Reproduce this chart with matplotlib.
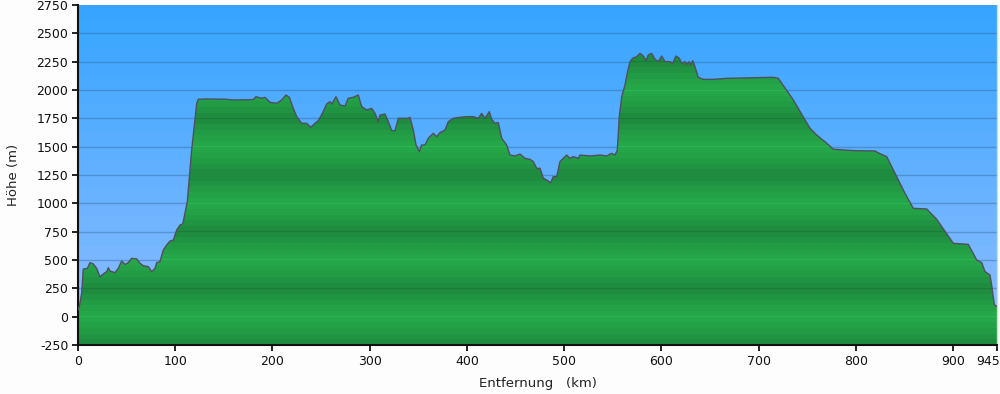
import numpy as np
import matplotlib
matplotlib.use("Agg")
import matplotlib.pyplot as plt
from matplotlib.colors import to_rgb
from matplotlib.patches import Polygon
from matplotlib.transforms import ScaledTranslation

plt.rcParams["axes.unicode_minus"] = False

# ---- data (distance in km, elevation in m) ----
distance_km = [0, 1.3, 3.8, 5.4, 9.6, 12.3, 15.7, 19.2, 22.6, 26.0, 29.5, 31.2, 32.9, 38.0,
               41.4, 44.9, 48.3, 51.7, 55.2, 60.4, 63.8, 67.1, 72.3, 75.8, 79.2, 80.9, 84.3,
               87.7, 91.2, 94.6, 98.0, 101.5, 104.9, 107.7, 110.0, 112.4, 116.9, 122.1, 123.7,
               132.3, 152.9, 159.7, 180.3, 183.0, 188.9, 192.3, 197.4, 204.3, 209.5, 213.9,
               217.3, 221.4, 224.9, 230.0, 235.2, 239.3, 243.7, 247.1, 251.3, 255.7, 259.1,
               260.9, 265.3, 269.4, 274.6, 277.9, 283.1, 288.2, 291.7, 296.9, 302.0, 305.4,
               308.8, 310.5, 315.7, 319.1, 322.6, 326.0, 329.4, 339.6, 341.4, 344.8, 347.6,
               351.0, 353.4, 356.8, 360.2, 365.4, 368.8, 372.2, 377.4, 380.8, 385.9, 392.8,
               399.7, 406.5, 411.6, 415.1, 418.5, 422.9, 425.4, 428.8, 432.2, 435.7, 440.8,
               444.2, 449.4, 454.5, 459.6, 464.8, 468.2, 471.7, 475.1, 478.5, 481.9, 486.1,
               488.7, 492.2, 495.6, 502.5, 505.9, 509.3, 514.5, 516.2, 526.5, 536.8, 543.6,
               548.8, 552.2, 554.6, 556.6, 559.1, 562.5, 564.8, 567.6, 570.4, 574.5, 577.9,
               581.3, 584.1, 586.4, 589.9, 593.3, 596.7, 600.2, 603.6, 608.7, 611.5, 614.9,
               618.3, 620.8, 624.2, 625.9, 628.6, 630.0, 632.1, 634.4, 637.8, 643.0, 653.3,
               667.0, 697.9, 715.0, 720.1, 735.5, 752.7, 759.6, 769.9, 776.7, 797.3, 819.6,
               824.0, 831.6, 841.9, 850.4, 858.9, 872.7, 883.0, 900.1, 915.5, 924.1, 929.3,
               932.7, 937.8, 939.5, 942.0, 943.0, 945.0]
elevation_m = [60, 88, 206, 420, 426, 476, 465, 426, 352, 377, 397, 432, 403, 388,
               426, 491, 461, 476, 515, 509, 471, 450, 441, 397, 426, 476, 485,
               588, 632, 667, 676, 765, 809, 818, 912, 1015, 1471, 1883, 1918,
               1921, 1918, 1912, 1915, 1941, 1927, 1935, 1891, 1883, 1912, 1956,
               1935, 1838, 1765, 1706, 1706, 1671, 1706, 1730, 1794, 1876, 1897,
               1876, 1941, 1868, 1859, 1927, 1935, 1956, 1853, 1824, 1838, 1794,
               1721, 1779, 1788, 1721, 1641, 1641, 1750, 1750, 1759, 1647, 1515,
               1456, 1515, 1515, 1574, 1618, 1588, 1624, 1647, 1721, 1750, 1759,
               1765, 1765, 1750, 1794, 1750, 1809, 1741, 1706, 1712, 1574, 1515,
               1426, 1418, 1435, 1397, 1388, 1368, 1309, 1309, 1221, 1206, 1182,
               1235, 1235, 1368, 1426, 1397, 1412, 1397, 1426, 1418, 1426, 1418,
               1441, 1426, 1471, 1765, 1941, 2044, 2147, 2250, 2280, 2294, 2323,
               2300, 2259, 2309, 2323, 2271, 2250, 2300, 2250, 2250, 2235, 2300,
               2280, 2235, 2250, 2229, 2250, 2221, 2259, 2206, 2112, 2094, 2094,
               2103, 2109, 2112, 2103, 1912, 1662, 1603, 1530, 1477, 1465, 1462,
               1441, 1412, 1235, 1088, 956, 950, 859, 647, 638, 500, 476,
               397, 368, 279, 118, 100, 90]

x_ticks = [0, 100, 200, 300, 400, 500, 600, 700, 800, 900, 945]
y_ticks = list(range(-250, 2751, 250))
x_label = "Entfernung   (km)"
y_label = "Höhe (m)"

YMIN, YMAX = -250, 2750
XMIN, XMAX = 0, 945

fig = plt.figure(figsize=(10, 3.94), dpi=100, facecolor="#fdfdfd")
ax = fig.add_axes([0.078, 1 - 345 / 394, 0.919, (345 - 5) / 394])

# ---- blue sky background, banded gradient ----
top = np.array(to_rgb("#37a5ff"))
bot = np.array(to_rgb("#90bdff"))
hs = np.linspace(YMAX, YMIN, 600)
band = np.floor((YMAX - hs) / 125.0)
t = np.clip(band / 23.0, 0, 1)
sky = top[None, :] * (1 - t[:, None]) + bot[None, :] * t[:, None]
ax.imshow(sky[:, None, :], extent=[XMIN, XMAX, YMIN, YMAX], aspect="auto",
          interpolation="nearest", zorder=0)

# gridlines
for yv in y_ticks[1:-1]:
    ax.axhline(yv, color="#2a5a90", alpha=0.38, lw=1.0, zorder=1)

# ---- green terrain fill, banded ----
dark = np.array(to_rgb("#1d843c"))
light = np.array(to_rgb("#26aa4b"))
hg = np.linspace(YMAX, YMIN, 1500)
ph = np.mod(hg, 500.0)
q = np.floor(ph / 50.0) * 50.0 + 25.0
tri = np.abs(q - 250.0) / 250.0  # 0 at 250 (dark), 1 at 0/500 (light)
tri = tri ** 0.7
grn = dark[None, :] * (1 - tri[:, None]) + light[None, :] * tri[:, None]
for i, h in enumerate(hg):
    r = np.mod(h + 5, 250.0)
    if r < 10:
        if np.mod(np.round(h / 250.0), 2) == 1:
            grn[i] = np.array(to_rgb("#1b7a37"))
        else:
            grn[i] = np.array(to_rgb("#2bb553"))
img = ax.imshow(grn[:, None, :], extent=[XMIN, XMAX, YMIN, YMAX], aspect="auto",
                interpolation="nearest", zorder=2)
xs = np.array(distance_km, dtype=float)
ys = np.array(elevation_m, dtype=float)
poly_xy = np.column_stack([np.concatenate([[xs[0]], xs, [xs[-1]]]),
                           np.concatenate([[YMIN], ys, [YMIN]])])
poly = Polygon(poly_xy, closed=True, facecolor="none", edgecolor="none")
ax.add_patch(poly)
img.set_clip_path(poly)

ax.plot(xs, ys, color="#4f4f60", lw=1.0, zorder=3)

ax.set_xlim(XMIN, XMAX)
ax.set_ylim(YMIN, YMAX)
ax.set_xticks(x_ticks)
ax.set_yticks(y_ticks)
ax.tick_params(axis="both", direction="out", length=4, width=1.3, labelsize=9,
               colors="#111111", pad=3)
# last x tick label sits to the left of its tick
last = ax.get_xticklabels()[-1]
last.set_horizontalalignment("right")
last.set_transform(last.get_transform() + ScaledTranslation(3 / 100, 0, fig.dpi_scale_trans))

ax.spines["top"].set_visible(False)
ax.spines["right"].set_color("#bfeab8")
ax.spines["right"].set_linewidth(1.0)
ax.spines["left"].set_linewidth(1.5)
ax.spines["bottom"].set_linewidth(1.5)
ax.spines["left"].set_color("#111111")
ax.spines["bottom"].set_color("#111111")
ax.set_xlabel(x_label, fontsize=9.5, color="#222222", labelpad=7)
ax.set_ylabel(y_label, fontsize=9.5, color="#222222", labelpad=12)

fig.savefig("out.png", dpi=100, facecolor=fig.get_facecolor())
